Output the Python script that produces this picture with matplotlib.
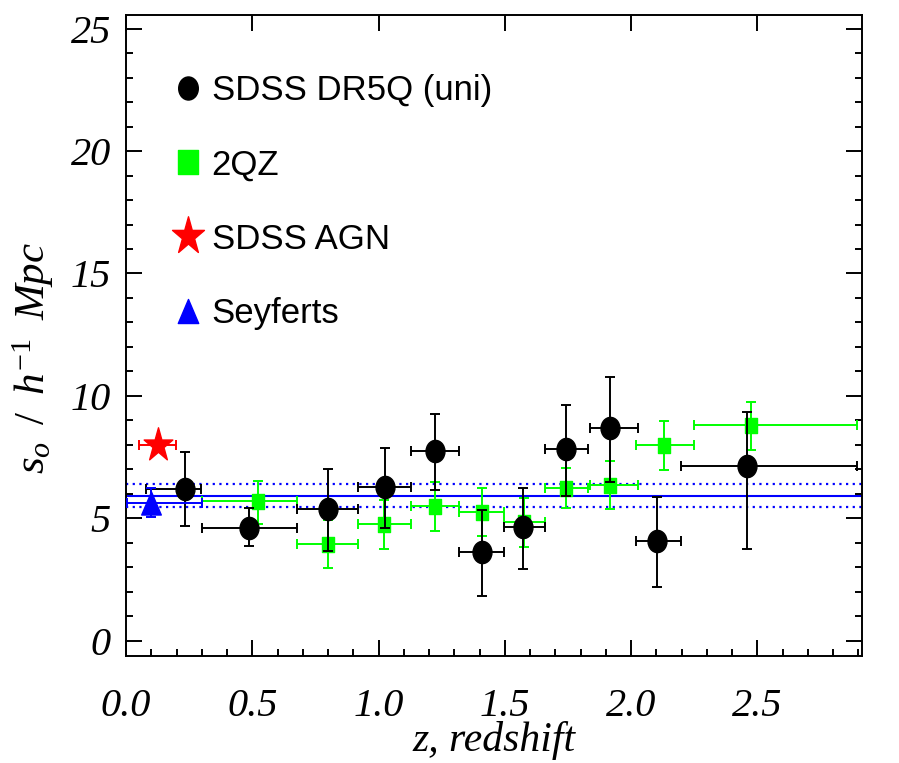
import numpy as np
import matplotlib
matplotlib.use("Agg")
import matplotlib.pyplot as plt
from matplotlib.lines import Line2D
from matplotlib.markers import MarkerStyle
from matplotlib.path import Path
from matplotlib.ticker import MultipleLocator
from matplotlib.transforms import Affine2D

# ---- data ----
# SDSS DR5Q (uniform) -- black ellipses
dr5_z = [0.234, 0.487, 0.799, 1.026, 1.225, 1.411, 1.573, 1.741, 1.916, 2.103, 2.459]
dr5_zlo = [0.079, 0.300, 0.676, 0.918, 1.129, 1.319, 1.498, 1.659, 1.836, 2.019, 2.198]
dr5_zhi = [0.297, 0.676, 0.918, 1.129, 1.319, 1.498, 1.659, 1.829, 2.028, 2.198, 2.896]
dr5_s0 = [6.18, 4.59, 5.37, 6.29, 7.74, 3.63, 4.65, 7.83, 8.70, 4.08, 7.13]
dr5_up = [7.69, 5.40, 7.00, 7.88, 9.24, 5.33, 6.24, 9.62, 10.78, 5.88, 9.33]
dr5_dn = [4.69, 3.87, 3.67, 4.60, 6.15, 1.83, 2.92, 5.92, 6.49, 2.17, 3.73]

# 2QZ -- green squares
qz_z = [0.524, 0.801, 1.023, 1.223, 1.411, 1.576, 1.743, 1.918, 2.129, 2.475]
qz_zlo = [0.300, 0.676, 0.918, 1.129, 1.319, 1.498, 1.659, 1.836, 2.019, 2.248]
qz_zhi = [0.676, 0.918, 1.129, 1.319, 1.498, 1.659, 1.829, 2.028, 2.248, 2.896]
qz_s0 = [5.71, 3.93, 4.75, 5.51, 5.26, 4.85, 6.24, 6.35, 7.98, 8.79]
qz_up = [6.52, 4.91, 5.74, 6.49, 6.24, 5.81, 7.06, 7.35, 8.96, 9.75]
qz_dn = [4.76, 2.95, 3.73, 4.49, 4.27, 3.83, 5.40, 5.37, 6.97, 7.79]

# SDSS AGN -- red star
agn_z, agn_zlo, agn_zhi, agn_s0 = [0.128], [0.053], [0.198], [8.01]

# Seyferts -- blue triangle
sey_z, sey_zlo, sey_zhi = [0.099], [0.003], [0.300]
sey_s0, sey_up, sey_dn = [5.63], [6.24], [5.03]

# mean s0 and its +-1 sigma band
s0_mean, s0_lo, s0_hi = 5.92, 5.46, 6.38

plt.rcParams["mathtext.fontset"] = "custom"
plt.rcParams["mathtext.it"] = "Liberation Serif:italic"
plt.rcParams["mathtext.rm"] = "Liberation Serif"

GREEN, RED, BLUE = "#00ff00", "#ff0000", "#0000ff"
SQ = 0.85  # the original output is squashed horizontally


def squashed(path):
    return path.transformed(Affine2D().scale(SQ, 1.0))


def std_marker(m):
    ms = MarkerStyle(m)
    return squashed(ms.get_path().transformed(ms.get_transform()))


ELLIPSE = squashed(Path.unit_circle())
SQUARE = std_marker("s")
STAR = std_marker("*")
TRI = std_marker("^")


def err_of(x, lo, hi):
    x, lo, hi = map(np.asarray, (x, lo, hi))
    return [x - lo, hi - x]


fig = plt.figure(figsize=(8.99, 7.63), dpi=100)
ax = fig.add_axes([0.1402, 0.1406, 0.8190, 0.8397])

ax.axhline(s0_mean, color=BLUE, lw=1.5, zorder=1)
for v in (s0_lo, s0_hi):
    ax.axhline(v, color=BLUE, lw=1.6, dashes=(1, 2.0), zorder=1)

eb = dict(linestyle="none", elinewidth=1.4, capsize=3.8, capthick=1.4)
ax.errorbar(qz_z, qz_s0, xerr=err_of(qz_z, qz_zlo, qz_zhi),
            yerr=err_of(qz_s0, qz_dn, qz_up), marker=SQUARE, ms=10.8,
            color=GREEN, mec=GREEN, zorder=3, **eb)
ax.errorbar(dr5_z, dr5_s0, xerr=err_of(dr5_z, dr5_zlo, dr5_zhi),
            yerr=err_of(dr5_s0, dr5_dn, dr5_up), marker=ELLIPSE, ms=16.0,
            color="black", zorder=4, **eb)
ax.errorbar(agn_z, agn_s0, xerr=err_of(agn_z, agn_zlo, agn_zhi),
            marker=STAR, ms=25.5, color=RED, zorder=5, **eb)
ax.errorbar(sey_z, sey_s0, xerr=err_of(sey_z, sey_zlo, sey_zhi),
            yerr=err_of(sey_s0, sey_dn, sey_up), marker=TRI, ms=16.6,
            color=BLUE, zorder=5, **eb)

ax.set_xlim(0, 2.916)
ax.set_ylim(-0.62, 25.56)
ax.xaxis.set_major_locator(MultipleLocator(0.5))
ax.xaxis.set_minor_locator(MultipleLocator(0.1))
ax.yaxis.set_major_locator(MultipleLocator(5))
ax.yaxis.set_minor_locator(MultipleLocator(1))
ax.xaxis.set_major_formatter(lambda v, p: f"{v:.1f}")
ax.yaxis.set_major_formatter(lambda v, p: f"{v:.0f}")

for s in ax.spines.values():
    s.set_linewidth(1.4)
ax.tick_params(which="both", direction="in", top=True, right=True, width=1.4)
ax.tick_params(which="major", length=11.5)
ax.tick_params(which="minor", length=5.3)
ax.tick_params(axis="x", which="minor", top=False)
ax.tick_params(axis="x", pad=23)
ax.tick_params(axis="y", pad=11)
for lab in ax.get_xticklabels() + ax.get_yticklabels():
    lab.set_fontfamily("Liberation Serif")
    lab.set_fontstyle("italic")
    lab.set_fontsize(29)

fig.text(33 / 899, 1 - 358 / 763, r"$s_o\;\;/\;\;h^{-1}\;\;Mpc$",
         rotation=90, ha="center", va="center", fontsize=31)
# the reference clips this label at the bottom edge; keep it just inside
fig.text(494 / 899, 0.016, "z, redshift", ha="center", va="baseline",
         fontsize=30, fontstyle="italic", family="Liberation Serif")

handles = [
    Line2D([], [], ls="none", marker=ELLIPSE, ms=16.6, color="black"),
    Line2D([], [], ls="none", marker=SQUARE, ms=17.3, color=GREEN),
    Line2D([], [], ls="none", marker=STAR, ms=28.4, color=RED),
    Line2D([], [], ls="none", marker=TRI, ms=17.3, color=BLUE),
]
labels = ["SDSS DR5Q (uni)", "2QZ", "SDSS AGN", "Seyferts"]
ax.legend(handles, labels, loc="upper left", bbox_to_anchor=(0.070, 0.908),
          frameon=False, borderpad=0, borderaxespad=0, handlelength=0.6,
          handletextpad=0.38, labelspacing=1.19,
          prop=dict(family="Liberation Sans", size=25))

fig.savefig("out.png", dpi=100)
